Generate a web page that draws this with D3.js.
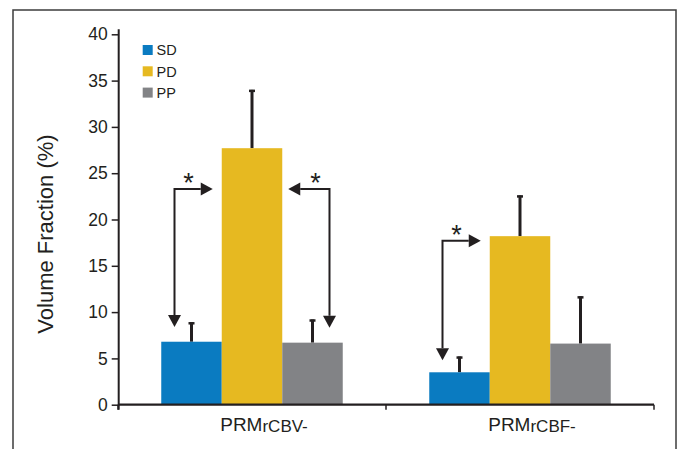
<!DOCTYPE html>
<html><head><meta charset="utf-8">
<script src="https://cdn.jsdelivr.net/npm/d3@7"></script>
<style>body{margin:0;background:#fff}svg{display:block;font-family:"Liberation Sans",Arial,sans-serif}</style>
</head><body>
<svg id="c" width="679" height="449"></svg>
<script>
const groups = ["PRMrCBV-", "PRMrCBF-"];
const groupMain = ["PRM", "PRM"];
const groupSub = ["rCBV-", "rCBF-"];
const series = ["SD", "PD", "PP"];
const colors = ["#0a7bc1", "#e6b921", "#828386"];
const means = {SD: [6.8, 3.5], PD: [27.7, 18.2], PP: [6.7, 6.6]};
const errTop = {SD: [8.9, 5.2], PD: [34.0, 22.6], PP: [9.2, 11.7]};
const yTicks = [0, 5, 10, 15, 20, 25, 30, 35, 40];
const annGroup = ["PRMrCBV-", "PRMrCBV-", "PRMrCBF-"];
const annFrom = ["SD", "PP", "SD"];
const annTo = ["PD", "PD", "PD"];
const annLevel = [23.3, 23.3, 17.7];
const annTip = [8.4, 8.3, 4.8];

const svg = d3.select("#c");
const ink = "#231f20";
// frame
svg.append("rect").attr("x", 13).attr("y", 10).attr("width", 663).attr("height", 470)
  .attr("fill", "none").attr("stroke", "#3c3c3c").attr("stroke-width", 1.5);

const x0 = d3.scaleBand().domain(groups).range([118, 654]).paddingInner(0).paddingOuter(0);
const x1 = d3.scaleBand().domain(series).range([0, x0.bandwidth()]).paddingInner(0).paddingOuter(0.715);
const y = d3.scaleLinear().domain([0, 40]).range([404.7, 34.3]);
const color = d3.scaleOrdinal().domain(series).range(colors);

// bars
const data = [];
groups.forEach((g, gi) => series.forEach(s => data.push({g, s, v: means[s][gi], e: errTop[s][gi]})));
const bw = x1.bandwidth();
// error bars
const eg = svg.append("g");
data.forEach(d => {
  const cx = x0(d.g) + x1(d.s) + bw / 2;
  eg.append("line").attr("x1", cx).attr("x2", cx).attr("y1", y(d.v)).attr("y2", y(d.e))
    .attr("stroke", ink).attr("stroke-width", 3);
  eg.append("line").attr("x1", cx - 3).attr("x2", cx + 3).attr("y1", y(d.e) + 1).attr("y2", y(d.e) + 1)
    .attr("stroke", ink).attr("stroke-width", 2.5);
});
svg.append("g").selectAll("rect").data(data).join("rect")
  .attr("x", d => x0(d.g) + x1(d.s)).attr("width", bw)
  .attr("y", d => y(d.v)).attr("height", d => y(0) - y(d.v))
  .attr("fill", d => color(d.s));

// axes
const yAxis = d3.axisLeft(y).tickValues(yTicks).tickSize(7).tickPadding(4).tickSizeOuter(0);
const ya = svg.append("g").attr("transform", "translate(118.7,0)").call(yAxis);
ya.select(".domain").attr("d", `M0,${y(40) - 5}V${y(0) + 5}`).attr("stroke", ink).attr("stroke-width", 2);
ya.selectAll(".tick line").attr("stroke", ink).attr("stroke-width", 1.5);
ya.selectAll(".tick text").attr("font-size", 17.5).attr("fill", ink).attr("font-family", "Liberation Sans, Arial");

const xa = svg.append("g").attr("transform", `translate(0,${y(0)})`);
xa.append("line").attr("x1", 118).attr("x2", 654).attr("stroke", ink).attr("stroke-width", 2.2);
const bounds = [118, x0(groups[1]), 654];
bounds.forEach(b => xa.append("line").attr("x1", b).attr("x2", b).attr("y1", 0).attr("y2", 5)
  .attr("stroke", ink).attr("stroke-width", 1.5));
groups.forEach((g, gi) => {
  const t = xa.append("text").attr("x", x0(g) + x0.bandwidth() / 2 + 12).attr("y", 26)
    .attr("text-anchor", "middle").attr("fill", ink);
  t.append("tspan").attr("font-size", 19).text(groupMain[gi]);
  t.append("tspan").attr("font-size", 17).attr("dy", 1.5).text(groupSub[gi]);
});

// y title
svg.append("text").attr("transform", `translate(53,234) rotate(-90)`)
  .attr("text-anchor", "middle").attr("font-size", 22).attr("fill", ink)
  .text("Volume Fraction (%)");

// legend
const lg = svg.append("g");
series.forEach((s, i) => {
  lg.append("rect").attr("x", 142.7).attr("y", 45 + i * 21.3).attr("width", 10).attr("height", 10)
    .attr("fill", color(s));
  lg.append("text").attr("x", 156.5).attr("y", 55.3 + i * 21.3).attr("font-size", 14.5)
    .attr("fill", ink).text(s);
});

// annotations
const ag = svg.append("g");
annGroup.forEach((g, i) => {
  const fromC = x0(g) + x1(annFrom[i]) + bw / 2;
  const toX = x0(g) + x1(annTo[i]);
  const dir = x1(annFrom[i]) < x1(annTo[i]) ? 1 : -1;
  const vx = fromC - dir * 17;
  const hy = y(annLevel[i]);
  const tipX = dir === 1 ? toX - 9 : toX + bw + 6;
  const tipY = y(annTip[i]);
  const head = 12, hw = 6.5;
  ag.append("path").attr("d", `M${vx},${tipY - head}V${hy}H${tipX - dir * head}`)
    .attr("fill", "none").attr("stroke", ink).attr("stroke-width", 2);
  ag.append("path").attr("d", `M${tipX},${hy}L${tipX - dir * head},${hy - hw}L${tipX - dir * head},${hy + hw}Z`).attr("fill", ink);
  ag.append("path").attr("d", `M${vx},${tipY}L${vx - hw},${tipY - head}L${vx + hw},${tipY - head}Z`).attr("fill", ink);
  ag.append("text").attr("x", vx + dir * 14).attr("y", hy + 3.5).attr("text-anchor", "middle")
    .attr("font-size", 27).attr("fill", ink).text("*");
});
</script>
</body></html>
